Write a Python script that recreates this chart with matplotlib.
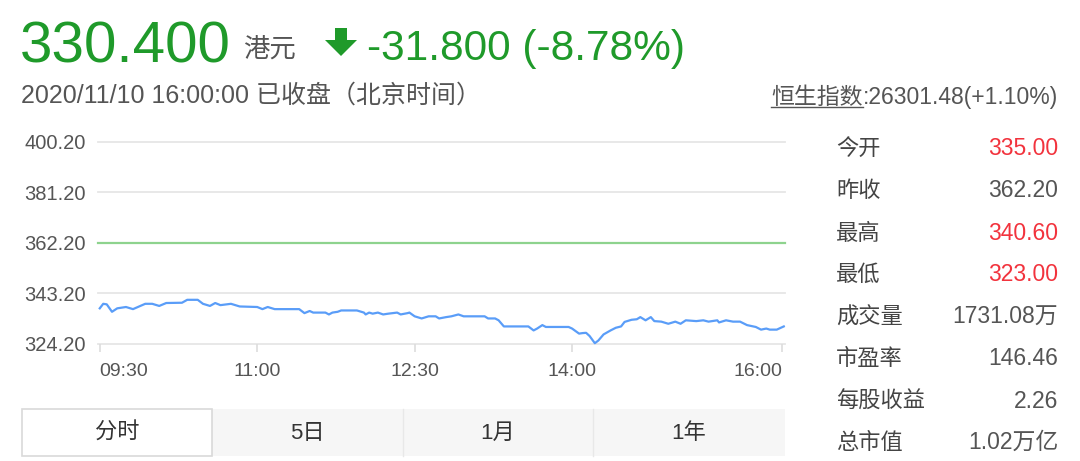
import matplotlib
matplotlib.use("Agg")
import matplotlib.pyplot as plt
from matplotlib.patches import Rectangle, Polygon
from matplotlib.lines import Line2D

plt.rcParams['font.family'] = ['Liberation Sans', 'Noto Sans CJK SC', 'DejaVu Sans']

# quote header
last_price = "330.400"
currency = "港元"
change_text = "-31.800 (-8.78%)"
status_text = "2020/11/10 16:00:00 已收盘（北京时间）"
index_name = "恒生指数"
index_text = ":26301.48(+1.10%)"

# intraday series: minutes after 09:30 and price
minutes = [0, 2, 4, 7, 10, 15, 19, 26, 30, 34, 38, 47, 50, 56, 59, 63, 66, 69, 75, 80,
           90, 93, 96, 100, 114, 117, 120, 122, 129, 131, 133, 136, 138, 147, 151, 152,
           154, 156, 159, 162, 165, 170, 172, 176, 177, 180, 184, 188, 192, 194, 198,
           201, 205, 208, 220, 222, 226, 228, 231, 245, 248, 250, 253, 255, 268, 270,
           274, 276, 278, 280, 283, 285, 288, 292, 295, 298, 300, 304, 307, 309, 312,
           315, 317, 321, 325, 329, 332, 335, 341, 345, 348, 353, 354, 358, 362, 366,
           370, 375, 378, 381, 383, 387, 391]
prices = [337.6, 339.3, 339.1, 336.3, 337.6, 338.1, 337.3, 339.3, 339.3, 338.5, 339.6,
          339.7, 340.8, 340.8, 339.3, 338.5, 339.6, 338.8, 339.3, 338.3, 338.1, 337.3,
          338.1, 337.3, 337.3, 335.8, 336.6, 336.0, 336.0, 335.3, 336.0, 336.3, 336.8,
          336.8, 336.0, 335.3, 336.0, 335.6, 336.0, 335.3, 335.6, 336.0, 335.3, 335.8,
          336.0, 334.6, 333.8, 334.6, 334.6, 333.8, 334.3, 334.6, 335.3, 334.6, 334.6,
          333.8, 333.8, 333.1, 330.8, 330.8, 329.3, 330.0, 331.3, 330.6, 330.6, 330.0,
          328.1, 328.3, 328.4, 327.2, 324.5, 325.5, 327.8, 329.3, 330.3, 330.8, 332.5,
          333.3, 333.5, 334.3, 333.1, 334.3, 332.8, 332.6, 331.8, 332.6, 331.8, 333.1,
          332.8, 333.1, 332.6, 333.1, 332.3, 333.1, 332.6, 332.6, 331.3, 330.6, 329.6,
          330.0, 329.6, 329.6, 330.8]
prev_close = 362.20
y_ticks = [324.20, 343.20, 362.20, 381.20, 400.20]
x_tick_labels = ["09:30", "11:00", "12:30", "14:00", "16:00"]

# right-hand stats
stat_labels = ["今开", "昨收", "最高", "最低", "成交量", "市盈率", "每股收益", "总市值"]
stat_values = ["335.00", "362.20", "340.60", "323.00", "1731.08万", "146.46", "2.26", "1.02万亿"]
red_fields = ["今开", "最高", "最低"]

tabs = ["分时", "5日", "1月", "1年"]

W, H = 1080, 461
GREEN = "#1f9a2a"
RED = "#f2333d"
GRAY = "#555555"


def fx(x):
    return x / W


def fy(y):
    return 1 - y / H


fig = plt.figure(figsize=(W / 100, H / 100), dpi=100)
fig.patch.set_facecolor("white")

# header
fig.text(fx(20), fy(62), last_price, fontsize=42, color=GREEN, va="baseline")
fig.text(fx(243), fy(57), currency, fontsize=19, color=GRAY, va="baseline")
arrow = [(335, 28), (347, 28), (347, 40), (357, 40), (341, 56), (325, 40), (335, 40)]
fig.patches.append(Polygon([(fx(a), fy(b)) for a, b in arrow], closed=True,
                           facecolor=GREEN, edgecolor="none", transform=fig.transFigure))
fig.text(fx(367), fy(60), change_text, fontsize=30.5, color=GREEN, va="baseline")
fig.text(fx(21), fy(103), status_text, fontsize=18, color=GRAY, va="baseline")

# index line (underlined name)
t = fig.text(fx(1058), fy(104), index_text, fontsize=16.5, color=GRAY, va="baseline", ha="right")
fig.canvas.draw()
bb = t.get_window_extent()
t2 = fig.text(bb.x0 / W, fy(104), index_name, fontsize=16.5, color=GRAY, va="baseline", ha="right")
bb2 = t2.get_window_extent()
fig.add_artist(Line2D([bb2.x0 / W, bb.x0 / W], [fy(107), fy(107)], color=GRAY, lw=1,
                      transform=fig.transFigure))

# chart
top_px, bot_px = 141.7, 344
ax = fig.add_axes([fx(98), fy(bot_px), (785 - 98) / W, (bot_px - top_px) / H])
ax.set_xlim(-1, 391.7)
ax.set_ylim(y_ticks[0], y_ticks[-1])
for v in y_ticks:
    ax.axhline(v, color="#e6e6e6", lw=1.3, zorder=1, clip_on=False)
ax.axhline(prev_close, color="#8ed38e", lw=1.6, zorder=2, clip_on=False)
ax.plot(minutes, prices, color="#5a9df8", lw=1.6, zorder=3, clip_on=False)

tick_pos = [(int(s[:2]) - 9) * 60 + int(s[3:]) - 30 for s in x_tick_labels]
ax.set_xticks(tick_pos)
ax.set_xticklabels(x_tick_labels)
ax.set_yticks(y_ticks)
ax.set_yticklabels(["%.2f" % v for v in y_ticks])
for s in ax.spines.values():
    s.set_visible(False)
ax.tick_params(axis="x", length=6, width=1.2, color="#dddddd", labelsize=14,
               labelcolor=GRAY, pad=8)
ax.tick_params(axis="y", length=0, labelsize=14.5, labelcolor=GRAY, pad=9)
xl = ax.get_xticklabels()
xl[0].set_ha("left")
xl[0].set_x(2)
xl[-1].set_ha("right")

# stats panel
row_y = [147, 189, 232, 273, 316, 357, 400, 441]
for lab, val, yy in zip(stat_labels, stat_values, row_y):
    fig.text(fx(836), fy(yy + 8), lab, fontsize=16, color="#444444", va="baseline")
    fig.text(fx(1058), fy(yy + 8), val, fontsize=16.5,
             color=RED if lab in red_fields else GRAY, va="baseline", ha="right")

# tab bar
x_edges = [22, 212, 403, 593, 785]
fig.patches.append(Rectangle((fx(22), fy(456)), (785 - 22) / W, 47 / H, facecolor="#f6f6f6",
                             edgecolor="none", transform=fig.transFigure, zorder=0))
for xe in x_edges[2:4]:
    fig.add_artist(Line2D([fx(xe), fx(xe)], [fy(409), fy(456)], color="#e8e8e8", lw=1,
                          transform=fig.transFigure))
fig.patches.append(Rectangle((fx(22), fy(456)), (212 - 22) / W, 47 / H, facecolor="white",
                             edgecolor="#d9d9d9", lw=1.2, transform=fig.transFigure, zorder=1))
for i, name in enumerate(tabs):
    cx = (x_edges[i] + x_edges[i + 1]) / 2
    fig.text(fx(cx), fy(433), name, fontsize=16, color="#333333", ha="center", va="center")

fig.savefig("out.png", dpi=100, facecolor="white")
